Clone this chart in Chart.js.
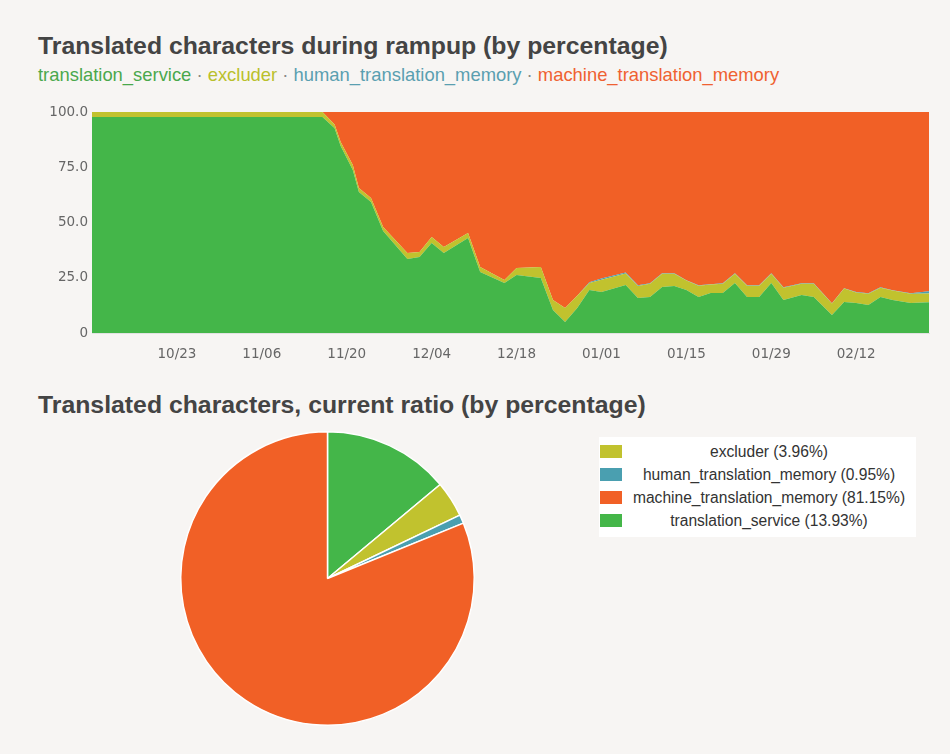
<!DOCTYPE html>
<html>
<head>
<meta charset="utf-8">
<script src="https://cdn.jsdelivr.net/npm/chart.js@4.4.1/dist/chart.umd.min.js"></script>
<style>
  body { margin: 0; background: #f7f5f3; font-family: "Liberation Sans", Arial, sans-serif; }
  #page { position: relative; width: 950px; height: 754px; overflow: hidden; }
  h2 { position: absolute; left: 38px; margin: 0; font-size: 24.8px; line-height: 28px; font-weight: bold; color: #444; white-space: nowrap; }
  #series { position: absolute; left: 38px; top: 65px; font-size: 18.4px; line-height: 20px; white-space: nowrap; }
  #series .sep { color: #888; }
  #areaWrap { position: absolute; left: 30px; top: 95px; width: 910px; height: 275px; }
  #pieWrap { position: absolute; left: 175px; top: 426px; width: 305px; height: 305px; }
  #pieLegend { position: absolute; left: 599px; top: 437px; width: 317px; height: 100px; background: #fff; box-sizing: border-box; padding-top: 3px; }
  #pieLegend .row { height: 23px; display: flex; align-items: center; }
  #pieLegend .box { width: 22px; height: 13px; margin-left: 1px; flex: none; }
  #pieLegend .txt { flex: 1; text-align: center; font-size: 15.6px; color: #333; white-space: nowrap; }
</style>
</head>
<body>
<div id="page">
  <h2 style="top:32px">Translated characters during rampup (by percentage)</h2>
  <div id="series"></div>
  <div id="areaWrap"><canvas id="area"></canvas></div>
  <h2 style="top:391px">Translated characters, current ratio (by percentage)</h2>
  <div id="pieWrap"><canvas id="pie"></canvas></div>
  <div id="pieLegend"></div>
</div>
<script>
// days since 10/09
const days = [0, 38, 40, 41, 43, 44, 46, 48, 52, 54, 56, 58, 62, 64, 68, 70, 74, 76, 78, 80,
  82, 84, 88, 90, 92, 94, 96, 98, 100, 102, 104, 106, 108, 110, 112, 114, 117, 119, 122, 124,
  126, 128, 130, 132, 135, 138];

const translationService = [97.7, 97.7, 92.6, 84.6, 73.8, 63.8, 59.3, 46.2, 33.5, 34.4, 40.7, 36.2, 43.0, 27.6, 22.6, 26.2, 24.9, 10.4, 5.0, 11.3,
  19.5, 18.6, 21.7, 15.8, 16.3, 20.8, 21.3, 19.5, 16.3, 18.1, 18.1, 22.6, 16.3, 16.3, 22.6, 14.9, 17.2, 16.3, 8.1, 14.0,
  13.6, 12.7, 16.3, 14.9, 13.6, 13.93];
const excluder = [2.3, 2.3, 1.8, 1.8, 2.2, 1.8, 1.8, 1.8, 2.7, 2.3, 2.7, 2.7, 2.2, 2.3, 1.4, 3.2, 5.0, 4.5, 6.3, 5.5,
  3.1, 5.5, 5.2, 5.5, 6.0, 6.0, 5.5, 4.2, 5.1, 3.8, 4.2, 4.2, 5.1, 5.1, 4.2, 5.6, 5.1, 6.0, 5.2, 6.1,
  4.7, 5.1, 4.2, 4.3, 4.2, 3.96];
const humanTM = [0, 0, 0, 0, 0, 0, 0, 0, 0, 0, 0, 0, 0, 0, 0, 0, 0, 0, 0, 0,
  0.4, 0.6, 0.5, 0.3, 0.2, 0.2, 0.2, 0.2, 0.2, 0.2, 0.2, 0.2, 0.2, 0.2, 0.2, 0.2, 0.2, 0.2, 0.2, 0.2,
  0.2, 0.2, 0.2, 0.2, 0.2, 0.95];
const machineTM = [0, 0, 5.6, 13.6, 24.0, 34.4, 38.9, 52.0, 63.8, 63.3, 56.6, 61.1, 54.8, 70.1, 76.0, 70.6, 70.1, 85.1, 88.7, 83.2,
  77.0, 75.3, 72.6, 78.4, 77.5, 73.0, 73.0, 76.1, 78.4, 77.9, 77.5, 73.0, 78.4, 78.4, 73.0, 79.3, 77.5, 77.5, 86.5, 79.7,
  81.5, 82.0, 79.3, 80.6, 82.0, 81.16];

const tickDays = [14, 28, 42, 56, 70, 84, 98, 112, 126];
const tickLabels = ['10/23', '11/06', '11/20', '12/04', '12/18', '01/01', '01/15', '01/29', '02/12'];
const yTicks = [0, 25, 50, 75, 100];

const seriesNames = ['translation_service', 'excluder', 'human_translation_memory', 'machine_translation_memory'];
const seriesColors = ['#44b649', '#c1c22e', '#4a9fb0', '#f16026'];
const seriesTextColors = ['#4aa84c', '#b9c02c', '#5a9fb0', '#ef6131'];

const pieLabels = ['translation_service', 'excluder', 'human_translation_memory', 'machine_translation_memory'];
const pieValues = [13.93, 3.96, 0.95, 81.15];

// inline series legend
const series = document.getElementById('series');
seriesNames.forEach((name, i) => {
  if (i > 0) {
    const s = document.createElement('span');
    s.className = 'sep';
    s.textContent = ' · ';
    series.appendChild(s);
  }
  const t = document.createElement('span');
  t.style.color = seriesTextColors[i];
  t.textContent = name;
  series.appendChild(t);
});

const seriesData = [translationService, excluder, humanTM, machineTM];
const tickFont = { family: 'DejaVu Sans', size: 13.5 };

new Chart(document.getElementById('area'), {
  type: 'line',
  data: {
    datasets: seriesData.map((vals, i) => ({
      label: seriesNames[i],
      data: vals.map((v, j) => ({ x: days[j], y: v })),
      backgroundColor: seriesColors[i],
      borderColor: seriesColors[i],
      borderWidth: 0,
      pointRadius: 0,
      tension: 0,
      fill: i === 0 ? 'origin' : '-1',
    })),
  },
  options: {
    responsive: true,
    maintainAspectRatio: false,
    animation: false,
    layout: { padding: { top: 17, right: 11, left: 0, bottom: 0 } },
    plugins: { legend: { display: false }, tooltip: { enabled: false } },
    scales: {
      x: {
        type: 'linear',
        min: 0,
        max: 138,
        grid: { display: false, drawTicks: false },
        border: { color: '#e2e2e2' },
        afterBuildTicks(scale) { scale.ticks = tickDays.map(v => ({ value: v })); },
        afterFit(scale) { scale.height = 37; },
        ticks: {
          padding: 13,
          color: '#666',
          font: tickFont,
          maxRotation: 0,
          callback: (v) => tickLabels[tickDays.indexOf(v)],
        },
      },
      y: {
        stacked: true,
        min: 0,
        max: 100,
        grid: { display: false, drawTicks: false },
        border: { display: false },
        afterBuildTicks(scale) { scale.ticks = yTicks.map(v => ({ value: v })); },
        afterFit(scale) { scale.width = 62; },
        ticks: {
          padding: 4,
          color: '#666',
          font: tickFont,
          callback: (v) => (v === 0 ? '0' : v.toFixed(1)),
        },
      },
    },
  },
});

const pieColors = pieLabels.map(l => seriesColors[seriesNames.indexOf(l)]);

new Chart(document.getElementById('pie'), {
  type: 'pie',
  data: {
    labels: pieLabels,
    datasets: [{
      data: pieValues,
      backgroundColor: pieColors,
      borderColor: '#ffffff',
      borderWidth: 1.5,
    }],
  },
  options: {
    responsive: true,
    maintainAspectRatio: false,
    animation: false,
    layout: { padding: 5 },
    plugins: { legend: { display: false }, tooltip: { enabled: false } },
  },
});

// pie legend, sorted by name
const legend = document.getElementById('pieLegend');
pieLabels
  .map((l, i) => ({ l, v: pieValues[i], c: pieColors[i] }))
  .sort((a, b) => a.l.localeCompare(b.l))
  .forEach((it) => {
    const row = document.createElement('div');
    row.className = 'row';
    const box = document.createElement('div');
    box.className = 'box';
    box.style.background = it.c;
    const txt = document.createElement('div');
    txt.className = 'txt';
    txt.textContent = `${it.l} (${it.v.toFixed(2)}%)`;
    row.appendChild(box);
    row.appendChild(txt);
    legend.appendChild(row);
  });
</script>
</body>
</html>
